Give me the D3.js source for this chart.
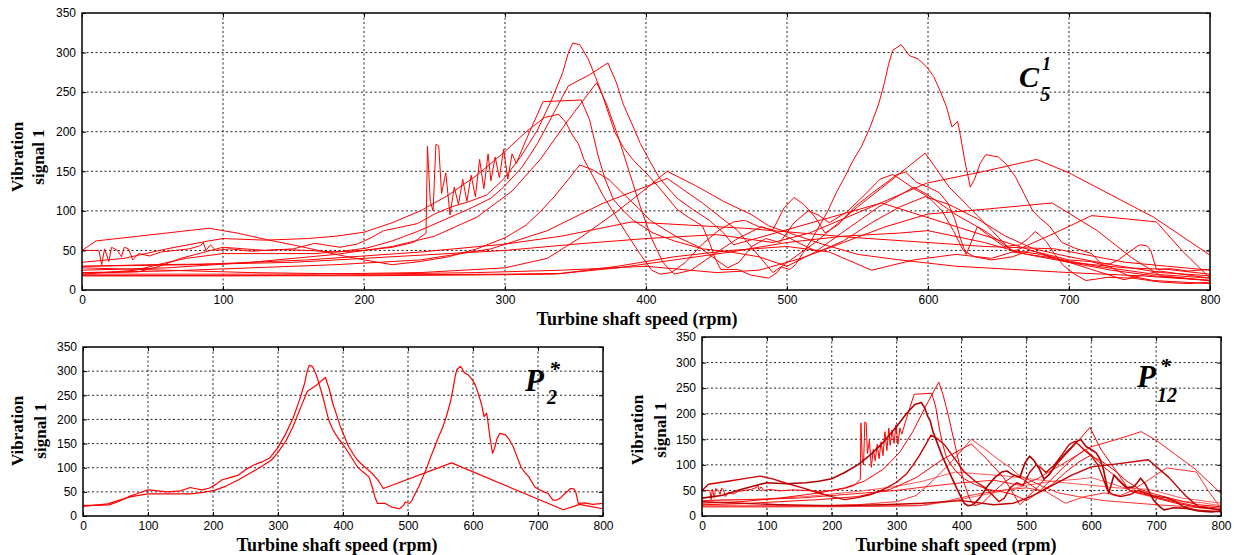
<!DOCTYPE html>
<html>
<head>
<meta charset="utf-8">
<script src="https://cdn.jsdelivr.net/npm/d3@7"></script>
<style>
  html, body { margin: 0; padding: 0; background: #fff; }
  svg { display: block; }
</style>
</head>
<body>
<svg id="chart" width="1234" height="555"></svg>
<script>
// ---------------- DATA ----------------
const xTicks = [0, 100, 200, 300, 400, 500, 600, 700, 800];
const yTicks = [0, 50, 100, 150, 200, 250, 300, 350];
const xLabel = "Turbine shaft speed (rpm)";
const yLabelLines = ["Vibration", "signal 1"];

// P2* run-up curves [rpm, vibration]
const p2a = [[0,22],[20,22],[40,23],[55,30],[70,40],[85,47],[100,54],[115,52],[130,50],[150,52],[165,59],[172,57],[183,54],[195,58],[205,66],[214,75],[225,79],[238,84],[250,96],[262,105],[275,112],[287,120],[299,140],[311,168],[323,202],[333,240],[341,275],[345,300],[348,312],[353,310],[359,292],[364,270],[369,247],[374,220],[378,199],[384,180],[391,164],[400,148],[409,130],[416,115],[422,102],[430,92],[440,81],[445,60],[449,40],[453,26],[465,26],[474,19],[487,15],[493,22],[496,29],[502,26],[506,32],[511,46],[517,62],[523,81],[529,100],[535,123],[541,143],[547,164],[553,182],[559,206],[565,235],[569,261],[572,285],[575,303],[581,310],[587,296],[593,292],[599,282],[604,270],[608,254],[613,232],[617,206],[621,213],[623,195],[626,164],[630,130],[633,140],[637,160],[641,171],[650,168],[656,158],[662,143],[668,122],[674,101],[680,90],[686,81],[695,60],[704,53],[716,46],[723,33],[729,33],[735,38],[741,46],[750,57],[755,56],[758,50],[762,26],[772,27],[784,24],[800,26]];
const p2b = [[0,20],[38,25],[56,33],[74,40],[100,46],[130,46],[165,46],[185,49],[202,53],[220,62],[238,74],[256,88],[274,102],[290,116],[299,130],[312,155],[323,185],[335,225],[345,258],[360,272],[373,287],[379,262],[384,234],[390,210],[396,185],[403,162],[409,143],[415,130],[422,116],[433,102],[445,88],[455,72],[462,57],[567,110],[739,13],[764,24],[780,20],[800,15]];

// P12* curves
const p12Spiky = [[0,50],[12,50],[14,32],[16,52],[19,36],[21,54],[25,50],[28,42],[30,54],[33,52],[36,38],[40,46],[48,43],[56,48],[66,50],[76,52],[84,56],[86,60],[88,50],[91,57],[95,50],[105,52],[120,49],[140,51],[160,50],[180,48],[200,50],[220,54],[235,60],[244,72],[245,182],[247,112],[249,100],[251,184],[253,182],[255,122],[258,148],[261,95],[264,130],[267,108],[270,140],[273,112],[276,145],[279,118],[282,165],[285,128],[288,172],[290,138],[293,168],[296,142],[299,178],[302,140],[305,172],[308,160],[315,190],[327,238],[354,240],[360,215],[366,170],[371,140],[377,114],[384,100],[391,88],[405,72],[420,62],[440,52],[460,48],[480,42],[500,30],[520,48],[545,80],[565,105],[590,130],[600,120],[620,95],[640,75],[660,50],[680,45],[700,35],[730,25],[760,18],[800,12]];
const p12Dark1 = [[0,35],[30,40],[60,52],[90,62],[100,65],[130,63],[160,65],[180,68],[200,73],[220,85],[240,100],[260,120],[280,145],[300,175],[315,200],[328,218],[338,222],[343,212],[348,195],[352,185],[356,165],[362,145],[370,118],[378,95],[386,72],[396,45],[404,25],[410,20],[418,22],[428,35],[440,58],[452,76],[462,86],[470,88],[480,80],[490,76],[498,104],[505,117],[512,108],[520,92],[527,72],[536,82],[548,105],[560,122],[570,135],[578,146],[584,149],[592,136],[600,130],[608,123],[614,110],[619,90],[623,65],[627,45],[631,62],[635,80],[642,70],[654,55],[665,57],[671,65],[676,74],[680,68],[684,61],[690,45],[696,31],[704,20],[712,12],[720,14],[727,16],[745,15],[765,10],[785,8],[800,10]];
const p12Dark2 = [[0,50],[10,62],[40,68],[70,74],[90,78],[110,72],[130,64],[155,55],[180,45],[200,38],[220,32],[240,36],[260,42],[280,52],[300,66],[315,82],[325,99],[335,118],[345,140],[353,158],[362,152],[374,139],[386,118],[396,101],[403,88],[410,80],[422,67],[438,54],[450,38],[458,28],[466,35],[475,55],[485,65],[495,60],[505,85],[515,100],[522,95],[530,85],[542,98],[555,120],[566,140],[575,146],[582,138],[590,128],[600,118],[610,100],[618,75],[625,50],[633,42],[645,38],[660,42],[672,50],[684,45],[700,38],[715,36],[728,30],[742,18],[760,12],[780,10],[800,8]];
const p12Dark3 = [[0,28],[60,25],[120,22],[200,20],[280,22],[340,25],[400,30],[450,22],[480,25],[510,40],[540,60],[570,80],[600,96],[640,102],[688,110],[720,75],[745,40],[765,18],[800,12]];
const p12Peak262 = [[0,25],[60,28],[120,35],[180,45],[220,55],[250,68],[280,92],[305,125],[325,165],[345,215],[365,262],[372,235],[380,195],[388,150],[396,105],[404,65],[412,35],[420,20],[432,25],[448,45],[465,65],[482,80],[497,70],[510,58],[522,48],[540,62],[560,85],[580,105],[598,118],[615,108],[635,90],[655,68],[675,52],[700,42],[730,32],[765,22],[800,18]];
const p12Peak150 = [[0,20],[80,20],[160,20],[240,22],[300,28],[330,40],[355,68],[380,100],[400,128],[415,150],[435,132],[455,112],[475,95],[487,81],[505,70],[525,58],[550,45],[580,38],[620,30],[660,26],[700,22],[750,18],[800,12]];
const p12Peak140 = [[0,22],[60,24],[120,28],[180,32],[240,38],[290,52],[330,75],[370,110],[415,141],[440,110],[465,75],[490,22],[520,60],[550,105],[575,140],[598,173],[615,130],[640,85],[660,48],[690,40],[720,30],[760,20],[800,15]];
const p12Peak165 = [[0,30],[50,32],[100,33],[150,35],[200,40],[250,45],[300,50],[350,58],[400,65],[450,70],[490,60],[516,72],[560,105],[599,135],[640,150],[677,165],[700,148],[730,120],[760,92],[800,44]];
const p12Bump95 = [[0,18],[100,18],[200,19],[300,20],[340,21],[380,30],[420,42],[460,50],[500,55],[530,48],[560,25],[590,38],[620,45],[645,40],[660,48],[690,72],[716,94],[740,90],[762,86],[780,50],[800,15]];
const p12Low = [[0,18],[100,18],[200,18],[280,19],[335,20],[380,28],[420,38],[460,48],[500,60],[540,68],[580,72],[600,75],[640,60],[670,45],[700,35],[740,28],[770,26],[800,20]];
const p12Mid = [[0,30],[80,32],[160,38],[240,48],[300,58],[340,68],[390,86],[430,82],[470,78],[510,72],[550,66],[600,60],[640,55],[690,52],[740,35],[770,30],[800,25]];

const p2Series = [p2a, p2b];
const p12Series = [p12Low, p12Mid, p12Bump95, p12Peak150, p12Peak165, p12Peak140, p12Peak262, p12Spiky, p12Dark3, p12Dark2, p12Dark1];
const c5Series = [p12Low, p12Mid, p12Bump95, p12Peak150, p12Peak165, p12Peak140, p12Peak262, p12Spiky, p12Dark3, p12Dark2, p12Dark1, p2b, p2a];

// ---------------- DRAWING ----------------
const svg = d3.select("#chart");

// styles for the P12* panel (same order as p12Series)
const p12Styles = [
  {c:"#ff5a5a", w:1}, {c:"#ff5a5a", w:1}, {c:"#ff3030", w:1}, {c:"#ff3030", w:1},
  {c:"#ff1a1a", w:1}, {c:"#ff0000", w:1}, {c:"#ff0000", w:1}, {c:"#ff0000", w:1},
  {c:"#c40000", w:1.4}, {c:"#cc0000", w:1.4}, {c:"#b00000", w:1.6}
];

function panel(cfg) {
  const x = d3.scaleLinear().domain([0, 800]).range([cfg.x0, cfg.x1]);
  const y = d3.scaleLinear().domain([0, 350]).range([cfg.y1, cfg.y0]);
  const g = svg.append("g");

  const clipId = "clip-" + cfg.id;
  svg.append("clipPath").attr("id", clipId).append("rect")
    .attr("x", cfg.x0).attr("y", cfg.y0)
    .attr("width", cfg.x1 - cfg.x0).attr("height", cfg.y1 - cfg.y0);

  // grid
  const grid = g.append("g");
  grid.selectAll("line.v").data(xTicks.slice(1, -1)).join("line")
    .attr("x1", d => x(d)).attr("x2", d => x(d))
    .attr("y1", cfg.y0).attr("y2", cfg.y1)
    .attr("stroke", "#222").attr("stroke-width", 1).attr("stroke-dasharray", "2,2.5");
  grid.selectAll("line.h").data(yTicks.slice(1, -1)).join("line")
    .attr("x1", cfg.x0).attr("x2", cfg.x1)
    .attr("y1", d => y(d)).attr("y2", d => y(d))
    .attr("stroke", "#222").attr("stroke-width", 1).attr("stroke-dasharray", "2,2.5");

  // lines
  const line = d3.line().x(d => x(d[0])).y(d => y(d[1]));
  const lg = g.append("g").attr("clip-path", `url(#${clipId})`);
  cfg.series.forEach((s, i) => {
    const st = cfg.styles ? cfg.styles[i] : {c: "#ff0000", w: cfg.lw};
    lg.append("path").datum(s).attr("d", line)
      .attr("fill", "none").attr("stroke", st.c).attr("stroke-width", st.w)
      .attr("stroke-linejoin", "round");
  });

  // axes (MATLAB-like: inward ticks, box)
  const fontTick = "'Liberation Sans', Arial, Helvetica, sans-serif";
  const xa = g.append("g").attr("transform", `translate(0,${cfg.y1})`)
    .call(d3.axisBottom(x).tickValues(xTicks).tickSize(-4).tickPadding(6).tickFormat(d3.format("d")));
  const xt = g.append("g").attr("transform", `translate(0,${cfg.y0})`)
    .call(d3.axisTop(x).tickValues(xTicks).tickSize(-4).tickFormat(""));
  const ya = g.append("g").attr("transform", `translate(${cfg.x0},0)`)
    .call(d3.axisLeft(y).tickValues(yTicks).tickSize(-4).tickPadding(6).tickFormat(d3.format("d")));
  const yr = g.append("g").attr("transform", `translate(${cfg.x1},0)`)
    .call(d3.axisRight(y).tickValues(yTicks).tickSize(-4).tickFormat(""));
  [xa, xt, ya, yr].forEach(a => {
    a.select(".domain").remove();
    a.selectAll("line").attr("stroke", "#000");
    a.selectAll("text").attr("font-family", fontTick).attr("font-size", 12).attr("fill", "#000");
  });
  xa.selectAll("text").attr("dy", null).attr("y", 14).attr("dominant-baseline", "auto");

  g.append("rect").attr("x", cfg.x0).attr("y", cfg.y0)
    .attr("width", cfg.x1 - cfg.x0).attr("height", cfg.y1 - cfg.y0)
    .attr("fill", "none").attr("stroke", "#000").attr("stroke-width", 1.5);

  // labels
  const serif = "'Liberation Serif', 'Times New Roman', Times, serif";
  g.append("text").attr("x", cfg.xlx).attr("y", cfg.xly)
    .attr("text-anchor", "middle").attr("font-family", serif)
    .attr("font-weight", "bold").attr("font-size", 18).text(xLabel);
  yLabelLines.forEach((t, i) => {
    const lx = cfg.ylx[i];
    g.append("text").attr("transform", `translate(${lx},${cfg.yly}) rotate(-90)`)
      .attr("text-anchor", "middle").attr("font-family", serif)
      .attr("font-weight", "bold").attr("font-size", 17).text(t);
  });

  // annotation
  const an = cfg.ann;
  const at = g.append("g").attr("font-family", serif).attr("font-weight", "bold").attr("font-style", "italic");
  at.append("text").attr("x", an.x).attr("y", an.y).attr("font-size", an.big).text(an.main);
  at.append("text").attr("x", an.supX).attr("y", an.supY).attr("font-size", an.supSize).text(an.sup);
  at.append("text").attr("x", an.subX).attr("y", an.subY).attr("font-size", an.subSize).text(an.sub);
}

panel({id: "c5", x0: 82, x1: 1210, y0: 13, y1: 290, series: c5Series, lw: 1,
  xlx: 637, xly: 325, ylx: [23, 44], yly: 157,
  ann: {main: "C", x: 1019, y: 87, big: 30, sup: "1", supX: 1042, supY: 70, supSize: 18,
        sub: "5", subX: 1040, subY: 101, subSize: 21}});
panel({id: "p2", x0: 83, x1: 603, y0: 347, y1: 516, series: p2Series, lw: 1.2,
  xlx: 337, xly: 551, ylx: [23, 46], yly: 431,
  ann: {main: "P", x: 525, y: 391, big: 31, sup: "*", supX: 549, supY: 376, supSize: 22,
        sub: "2", subX: 547, subY: 404, subSize: 20}});
panel({id: "p12", x0: 702, x1: 1221, y0: 337, y1: 516, series: p12Series, styles: p12Styles,
  xlx: 956, xly: 551, ylx: [643, 666], yly: 430,
  ann: {main: "P", x: 1137, y: 387, big: 31, sup: "*", supX: 1160, supY: 373, supSize: 22,
        sub: "12", subX: 1157, subY: 402, subSize: 20}});
</script>
</body>
</html>
